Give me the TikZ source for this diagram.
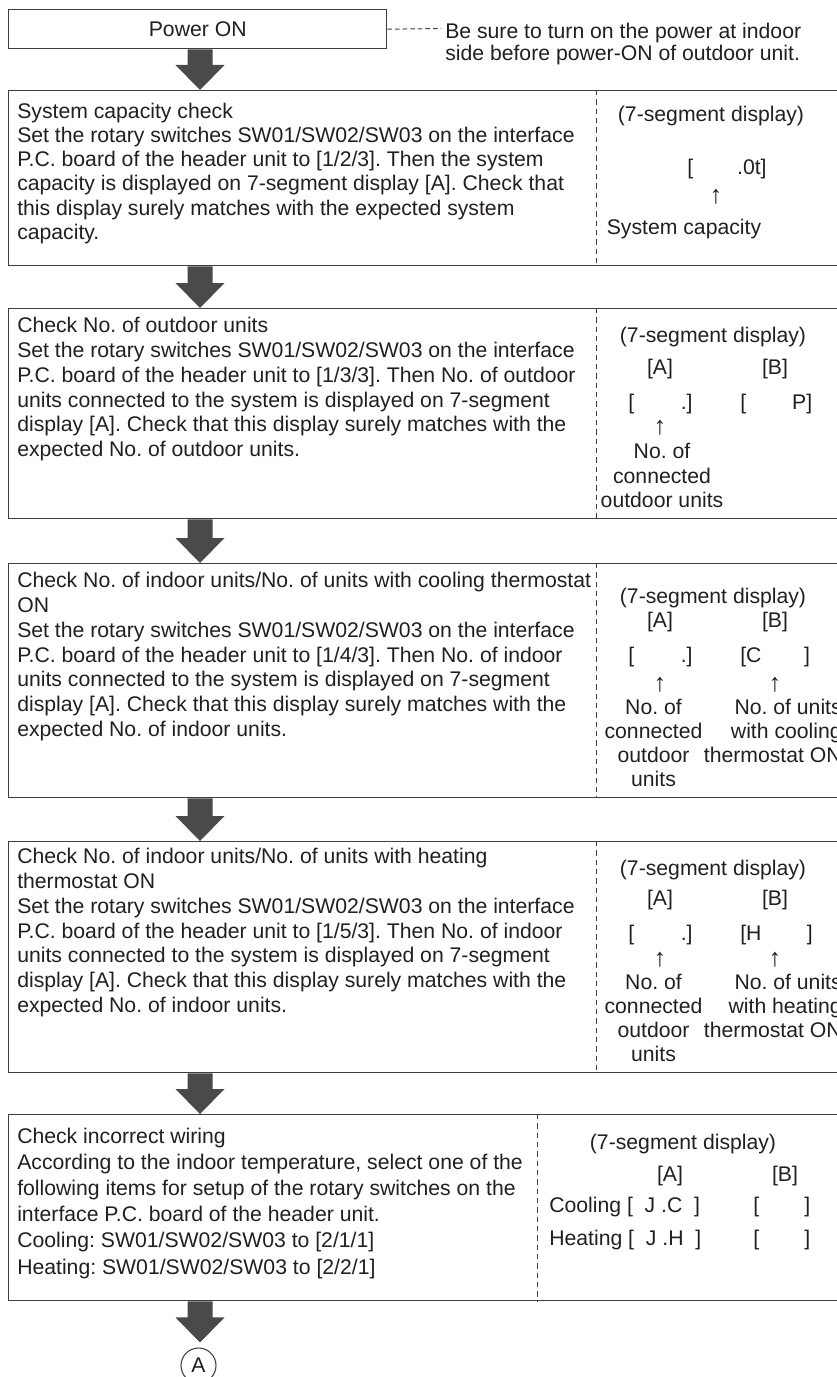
\documentclass[tikz,border=0pt]{standalone}
\usepackage{fontspec}
\setmainfont{Liberation Sans}
\usetikzlibrary{calc}
\definecolor{ink}{HTML}{231F20}
\definecolor{framegray}{HTML}{3F3F3F}
\definecolor{arrowgray}{HTML}{4A4A4A}
\newcommand\flowarrow[2]{%
  \fill[arrowgray] ($(#1)+(-12.5,0)$) -- ($(#1)+(12.5,0)$) -- ($(#2)+(12.5,-25)$) -- ($(#2)+(24.5,-25)$) -- (#2) -- ($(#2)+(-24.5,-25)$) -- ($(#2)+(-12.5,-25)$) -- cycle;}
\tikzset{
  box/.style={draw=framegray, line width=1.1pt, inner sep=0, anchor=north west, minimum width=625.5pt},
  divider/.style={draw=framegray, line width=0.75pt, dash pattern=on 4pt off 3pt},
  notedash/.style={draw=framegray, line width=0.75pt, dash pattern=on 3.4pt off 2.3pt},
  body/.style={align=left, inner sep=0, anchor=north west, font=\fontsize{15.9}{18.6}\selectfont},
  lbl/.style={align=center, inner sep=0, anchor=north, font=\fontsize{15.9}{18}\selectfont},
  rlbl/.style={align=right, inner sep=0, anchor=north east, font=\fontsize{15.9}{18}\selectfont},
  txt/.style={inner sep=0, anchor=base},
  up/.style={inner sep=0, anchor=center, font=\fontsize{19}{19}\selectfont},
}
\begin{document}
\frenchspacing
\begin{tikzpicture}[x=0.75pt, y=-0.75pt, text=ink, font=\fontsize{15.9}{19}\selectfont]
\useasboundingbox (0,0) rectangle (837,1377);
\clip (0,0) rectangle (837,1377);
\fill[white] (0,0) rectangle (837,1377);
\coordinate (ax) at (200,0);
\coordinate (d1) at (596,0);
\coordinate (d5) at (537,0);

% Power ON
\node[draw=framegray, line width=1.1pt, minimum width=283.5pt, minimum height=29.25pt, inner sep=0, anchor=north west] (power) at (8,9) {Power ON};
\coordinate (noteend) at (441,28.5);
\draw[notedash] (power.east) -- (noteend);
\node[align=left, inner sep=0, anchor=north west, font=\fontsize{15.9}{17}\selectfont] (note) at (445,22.5) {Be sure to turn on the power at indoor\\side before power-ON of outdoor unit.};

% boxes
\node[box, minimum height=131.25pt] (b1) at (8,90) {};
\node[box, minimum height=157.5pt] (b2) at (8,308) {};
\node[box, minimum height=175.5pt] (b3) at (8,563) {};
\node[box, minimum height=173.25pt] (b4) at (8,841) {};
\node[box, minimum height=139.5pt] (b5) at (8,1114) {};

\draw[divider] (b1.north -| d1) -- (b1.south -| d1);
\draw[divider] (b2.north -| d1) -- (b2.south -| d1);
\draw[divider] (b3.north -| d1) -- (b3.south -| d1);
\draw[divider] (b4.north -| d1) -- (b4.south -| d1);
\draw[divider] (b5.north -| d5) -- (b5.south -| d5);

% circle A
\node[circle, draw=framegray, line width=0.8pt, minimum size=26.25pt, inner sep=0] (circA) at (198.5,1365.5) {A};

% arrows
\path (power.south -| ax) coordinate (a0s) (b1.north -| ax) coordinate (a0e);
\flowarrow{a0s}{a0e}
\path (b1.south -| ax) coordinate (a1s) (b2.north -| ax) coordinate (a1e);
\flowarrow{a1s}{a1e}
\path (b2.south -| ax) coordinate (a2s) (b3.north -| ax) coordinate (a2e);
\flowarrow{a2s}{a2e}
\path (b3.south -| ax) coordinate (a3s) (b4.north -| ax) coordinate (a3e);
\flowarrow{a3s}{a3e}
\path (b4.south -| ax) coordinate (a4s) (b5.north -| ax) coordinate (a4e);
\flowarrow{a4s}{a4e}
\path (b5.south -| ax) coordinate (a5s) ($(circA.north -| ax)+(0,-5)$) coordinate (a5e);
\flowarrow{a5s}{a5e}

% box 1
\node[body, font=\fontsize{15.9}{18.2}\selectfont] (t1) at (17,102.5) {System capacity check\\Set the rotary switches SW01/SW02/SW03 on the interface\\P.C. board of the header unit to [1/2/3]. Then the system\\capacity is displayed on 7-segment display [A]. Check that\\this display surely matches with the expected system\\capacity.};
\node[txt] (s1t) at (711,122) {(7-segment display)};
\node[txt, anchor=base west] (s1v) at (687,175) {[\hspace{33pt}.0t]};
\node[up] (s1u) at (716,197) {↑};
\node[txt] (s1l) at (684,234) {System capacity};

% box 2
\node[body] (t2) at (17,317) {Check No. of outdoor units\\Set the rotary switches SW01/SW02/SW03 on the interface\\P.C. board of the header unit to [1/3/3]. Then No. of outdoor\\units connected to the system is displayed on 7-segment\\display [A]. Check that this display surely matches with the\\expected No. of outdoor units.};
\node[txt] (s2t) at (713,342) {(7-segment display)};
\node[txt] (s2a) at (660,374) {[A]};
\node[txt] (s2b) at (775,374) {[B]};
\node[txt, anchor=base west] (s2va) at (628,409) {[\hspace{35pt}.]};
\node[txt, anchor=base west] (s2vb) at (740,409) {[\hspace{34.5pt}P]};
\node[up] (s2u) at (660,428) {↑};
\node[lbl, font=\fontsize{15.9}{18.4}\selectfont] (s2l) at (662,443) {No. of\\connected\\outdoor units};

% box 3
\node[body] (t3) at (17,572) {Check No. of indoor units/No. of units with cooling thermostat\\ON\\Set the rotary switches SW01/SW02/SW03 on the interface\\P.C. board of the header unit to [1/4/3]. Then No. of indoor\\units connected to the system is displayed on 7-segment\\display [A]. Check that this display surely matches with the\\expected No. of indoor units.};
\node[txt] (s3t) at (713,603) {(7-segment display)};
\node[txt] (s3a) at (660,627) {[A]};
\node[txt] (s3b) at (775,627) {[B]};
\node[txt, anchor=base west] (s3va) at (628,662) {[\hspace{35pt}.]};
\node[txt, anchor=base west] (s3vb) at (740,662) {[C\hspace{32pt}]};
\node[up] (s3ua) at (660,685) {↑};
\node[up] (s3ub) at (775,685) {↑};
\node[lbl] (s3l) at (653.5,699) {No. of\\connected\\outdoor\\units};
\node[rlbl] (s3r) at (842,699) {No. of units\\with cooling\\thermostat ON};

% box 4
\node[body] (t4) at (17,848) {Check No. of indoor units/No. of units with heating\\thermostat ON\\Set the rotary switches SW01/SW02/SW03 on the interface\\P.C. board of the header unit to [1/5/3]. Then No. of indoor\\units connected to the system is displayed on 7-segment\\display [A]. Check that this display surely matches with the\\expected No. of indoor units.};
\node[txt] (s4t) at (713,875) {(7-segment display)};
\node[txt] (s4a) at (660,905) {[A]};
\node[txt] (s4b) at (775,905) {[B]};
\node[txt, anchor=base west] (s4va) at (628,940) {[\hspace{35pt}.]};
\node[txt, anchor=base west] (s4vb) at (740,940) {[H\hspace{34pt}]};
\node[up] (s4ua) at (660,960) {↑};
\node[up] (s4ub) at (775,960) {↑};
\node[lbl] (s4l) at (653.5,974) {No. of\\connected\\outdoor\\units};
\node[rlbl] (s4r) at (842,974) {No. of units\\with heating\\thermostat ON};

% box 5
\node[body, font=\fontsize{15.9}{19.65}\selectfont] (t5) at (17,1127.5) {Check incorrect wiring\\According to the indoor temperature, select one of the\\following items for setup of the rotary switches on the\\interface P.C. board of the header unit.\\Cooling: SW01/SW02/SW03 to [2/1/1]\\Heating: SW01/SW02/SW03 to [2/2/1]};
\node[txt] (s5t) at (683,1149) {(7-segment display)};
\node[txt] (s5a) at (670,1181) {[A]};
\node[txt] (s5b) at (785,1181) {[B]};
\node[txt, anchor=base west] (s5c) at (549,1212) {Cooling [\ \ J .C\ \ ]};
\node[txt, anchor=base west] (s5cb) at (753,1212) {[\hspace{34pt}]};
\node[txt, anchor=base west] (s5h) at (549,1245) {Heating [\ \ J .H\ \ ]};
\node[txt, anchor=base west] (s5hb) at (753,1245) {[\hspace{34pt}]};
\end{tikzpicture}
\end{document}
